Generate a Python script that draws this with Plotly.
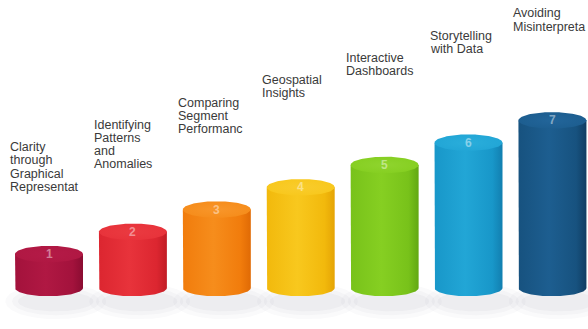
import numpy as np
import plotly.graph_objects as go

# Step data
steps = [1, 2, 3, 4, 5, 6, 7]
labels = [
    ["Clarity", "through", "Graphical", "Representat"],
    ["Identifying", "Patterns", "and", "Anomalies"],
    ["Comparing", "Segment", "Performanc"],
    ["Geospatial", "Insights"],
    ["Interactive", "Dashboards"],
    ["Storytelling", "with Data"],
    ["Avoiding", "Misinterpreta"],
]
# (left shade, mid shade, right shade, top face)
palette = [
    ("#a3123c", "#b01843", "#8a0c31", "#b41a47"),
    ("#dc2630", "#e8333b", "#c11c25", "#ea3a40"),
    ("#f17c0c", "#f68d1c", "#e06a05", "#f8962a"),
    ("#f2b90c", "#f8c81e", "#e5a405", "#f9cc2c"),
    ("#78c21a", "#86cf22", "#62a812", "#8fd42e"),
    ("#1897c9", "#22a6d6", "#127fb0", "#2aaedb"),
    ("#17527f", "#1d5e90", "#0f3d63", "#22659a"),
]

BASE = 0.52      # body height added to each step level
HALF_W = 0.405   # half width of a cylinder (x units)
RY = 0.37        # vertical radius of the elliptical faces (y units)

fig = go.Figure()
t = np.linspace(0, np.pi, 60)
tf = np.linspace(0, 2 * np.pi, 120)

for i, (v, lab, pal) in enumerate(zip(steps, labels, palette)):
    xc = i
    h = BASE + v
    # soft shadow on the floor
    for sx, sy, a in [(0.6, 0.8, 0.025), (0.52, 0.62, 0.03), (0.45, 0.45, 0.035)]:
        fig.add_trace(go.Scatter(
            x=xc + 0.08 + sx * np.cos(tf), y=-0.6 + sy * np.sin(tf),
            mode="lines", fill="toself", line=dict(width=0),
            fillcolor=f"rgba(60,60,80,{a})", hoverinfo="skip", showlegend=False))
    # cylinder body with bottom rounded edge
    bx = np.concatenate([[xc - HALF_W, xc - HALF_W],
                         xc - HALF_W * np.cos(t),
                         [xc + HALF_W, xc - HALF_W]])
    by = np.concatenate([[h, 0], -RY * np.sin(t), [h, h]])
    fig.add_trace(go.Scatter(
        x=bx, y=by, mode="lines", fill="toself", line=dict(width=0),
        fillgradient=dict(type="horizontal",
                          colorscale=[[0, pal[0]], [0.45, pal[1]], [0.85, pal[0]], [1, pal[2]]]),
        hoverinfo="skip", showlegend=False))
    # top face
    fig.add_trace(go.Scatter(
        x=xc + HALF_W * np.cos(tf), y=h + RY * np.sin(tf),
        mode="lines", fill="toself", line=dict(width=0),
        fillgradient=dict(type="radial",
                          colorscale=[[0, pal[3]], [1, pal[1]]]),
        hoverinfo="skip", showlegend=False))
    # step number on the top face
    fig.add_annotation(x=xc, y=h, text=f"<b>{v}</b>", showarrow=False,
                       font=dict(family="Liberation Sans, Arial", size=12,
                                 color="rgba(255,255,255,0.45)"),
                       xanchor="center", yanchor="middle")
    # caption above the cylinder
    for j, line in enumerate(lab):
        fig.add_annotation(x=xc - HALF_W, y=h, text=line, showarrow=False,
                           xanchor="left", yanchor="middle",
                           xshift=-7, yshift=107 - 13.2 * j,
                           font=dict(family="Liberation Sans, Arial", size=12.5,
                                     color="#3a3a3a"))

fig.update_layout(
    width=588, height=329,
    margin=dict(l=0, r=0, t=0, b=0),
    paper_bgcolor="white", plot_bgcolor="white",
    xaxis=dict(range=[-0.584, 6.424], visible=False, fixedrange=True),
    yaxis=dict(range=[-1.84, 12.92], visible=False, fixedrange=True),
    showlegend=False,
)

fig.write_html("out.html")
